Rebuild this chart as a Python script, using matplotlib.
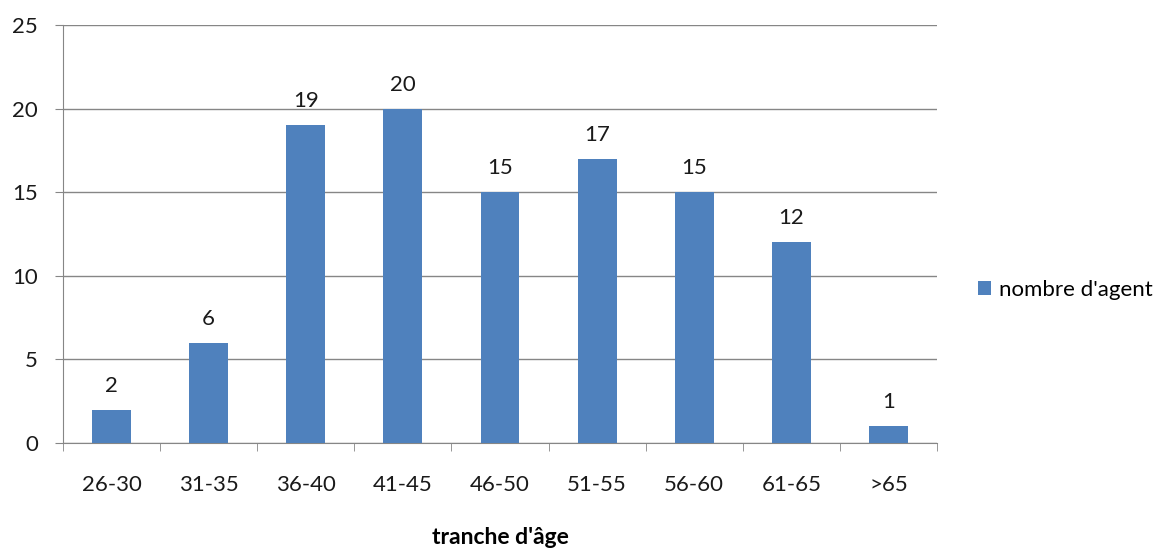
import matplotlib
matplotlib.use("Agg")
import matplotlib.pyplot as plt
import numpy as np

# data
categories = ['26-30', '31-35', '36-40', '41-45', '46-50', '51-55', '56-60', '61-65', '>65']
agents = [2, 6, 19, 20, 15, 17, 15, 12, 1]

plt.rcParams['font.family'] = ['Lato', 'DejaVu Sans']

fig = plt.figure(figsize=(11.58, 5.51), dpi=100)
ax = fig.add_axes([63/1158, 1-443/551, (937-63)/1158, (443-25)/551])

x = np.arange(len(categories))
ax.bar(x, agents, width=0.4, color='#4F81BD', zorder=3, label="nombre d'agent")

for xi, v in zip(x, agents):
    ax.annotate(str(v), (xi, v), xytext=(0, 13), textcoords='offset points',
                ha='center', va='baseline', fontsize=16, color='#1a1a1a')

ax.set_xlim(-0.5, len(categories) - 0.5)
ax.set_ylim(0, 25)
ax.set_yticks(range(0, 26, 5))
ax.grid(axis='y', color='#868686', linewidth=1, zorder=0)

ax.set_xticks(x)
ax.set_xticklabels(categories, fontsize=16)
ax.tick_params(axis='x', length=0, pad=23, colors='#1a1a1a')
# category boundary ticks
ax.set_xticks(np.arange(-0.5, len(categories), 1), minor=True)
ax.tick_params(axis='x', which='minor', length=6, color='#868686', direction='out')
ax.tick_params(axis='y', length=6, labelsize=16, colors='#1a1a1a', pad=12)
ax.tick_params(axis='y', color='#868686')

for s in ['top', 'right']:
    ax.spines[s].set_visible(False)
ax.spines['left'].set_color('#868686')
ax.spines['bottom'].set_color('#868686')

ax.set_xlabel("tranche d'âge", fontsize=16.5, fontweight='bold', va='center')
ax.xaxis.set_label_coords(0.5, -(537 - 443) / 418)

ax.legend(loc='center left', bbox_to_anchor=(1.047, 0.366), frameon=False,
          fontsize=16, handlelength=0.6, handleheight=0.6, handletextpad=0.35,
          borderpad=0, borderaxespad=0)

fig.savefig('out.png', dpi=100)
